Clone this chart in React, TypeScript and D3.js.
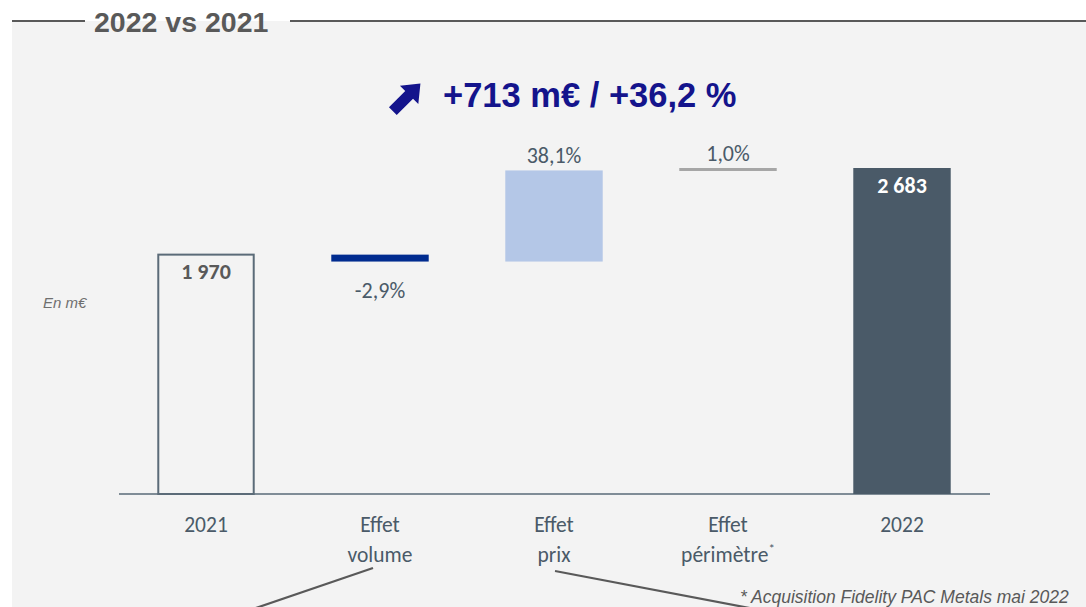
import React from "react";
import * as d3 from "d3";

const categories = ["2021", "Effet volume", "Effet prix", "Effet périmètre", "2022"];
const catLines = [["2021"], ["Effet", "volume"], ["Effet", "prix"], ["Effet", "périmètre"], ["2022"]];
const startValue = 1970;
const deltas = [-57, 750, 20];
const endValue = 2683;
const deltaLabels = ["-2,9%", "38,1%", "1,0%"];
const totalLabels = ["1 970", "2 683"];

const W = 1086;
const H = 607;

export default function App() {
  const x = d3.scaleBand<string>().domain(categories).range([119, 989]).paddingInner(0.44).paddingOuter(0.22);
  const y = d3.scaleLinear().domain([0, endValue]).range([494, 168]);
  const bw = x.bandwidth();

  const steps: { cat: string; from: number; to: number }[] = [];
  let run = startValue;
  deltas.forEach((d, i) => {
    steps.push({ cat: categories[i + 1], from: run, to: run + d });
    run += d;
  });
  const deltaColors = ["#002b8f", "#b4c7e7", "#a6a6a6"];

  const calibri = "Carlito, Lato, 'Open Sans', sans-serif";
  const labelColor = "#4a5a68";
  const arial = "'Liberation Sans', Arial, sans-serif";

  return (
    <svg width={W} height={H} style={{ position: "absolute", left: 0, top: 0, display: "block" }}>
      <rect x={0} y={0} width={W} height={H} fill="#ffffff" />
      <rect x={12} y={21} width={W - 12} height={H - 21} fill="#f3f3f3" />
      <line x1={12} x2={85} y1={21} y2={21} stroke="#595959" strokeWidth={2} />
      <line x1={290} x2={W} y1={21} y2={21} stroke="#595959" strokeWidth={2} />
      <text x={94} y={32} fontFamily={arial} fontWeight="bold" fontSize={28.5} fill="#595959">
        2022 vs 2021
      </text>

      {/* headline */}
      <g transform="translate(407,97) rotate(-45)" fill="#14148c">
        <path d="M -20 -5.5 L 3 -5.5 L 3 -13 L 19 0 L 3 13 L 3 5.5 L -20 5.5 Z" />
      </g>
      <text x={443} y={107} fontFamily={arial} fontWeight="bold" fontSize={34.5} fill="#14148c">
        +713 m€ / +36,2 %
      </text>

      <text x={43} y={308} fontFamily={arial} fontStyle="italic" fontSize={15} fill="#6f6f6f">
        En m€
      </text>

      {/* axis */}
      <line x1={119} x2={990} y1={y(0)} y2={y(0)} stroke="#7f8c96" strokeWidth={2} />

      {/* start bar */}
      <rect
        x={x(categories[0])! + 1}
        y={y(startValue)}
        width={bw - 2}
        height={y(0) - y(startValue)}
        fill="none"
        stroke="#5b6b78"
        strokeWidth={2}
      />
      <text x={x(categories[0])! + bw / 2} y={y(startValue) + 24.5} textAnchor="middle" fontFamily={calibri} fontWeight="bold" fontSize={22} fill="#595959">
        {totalLabels[0]}
      </text>

      {/* delta bars */}
      {steps.map((s, i) => {
        const top = y(Math.max(s.from, s.to));
        const bot = y(Math.min(s.from, s.to));
        const h = Math.max(bot - top, 3);
        const cx = x(s.cat)! + bw / 2;
        const labelY = s.to < s.from ? bot + 36 : top - 7;
        return (
          <g key={s.cat}>
            <rect x={x(s.cat)} y={top} width={bw} height={h} fill={deltaColors[i]} />
            <text x={cx} y={labelY} textAnchor="middle" fontFamily={calibri} fontSize={22} fill={labelColor}>
              {deltaLabels[i]}
            </text>
          </g>
        );
      })}

      {/* end bar */}
      <rect x={x(categories[4])} y={y(endValue)} width={bw} height={y(0) - y(endValue)} fill="#4a5a68" />
      <text x={x(categories[4])! + bw / 2} y={y(endValue) + 25} textAnchor="middle" fontFamily={calibri} fontWeight="bold" fontSize={22} fill="#ffffff">
        {totalLabels[1]}
      </text>

      {/* category labels */}
      {categories.map((c, i) => (
        <text key={c} x={x(c)! + bw / 2} y={532} textAnchor="middle" fontFamily={calibri} fontSize={21.5} fill={labelColor}>
          {catLines[i].map((ln, j) => (
            <tspan key={j} x={x(c)! + bw / 2} dy={j === 0 ? 0 : 30}>
              {ln}
              {i === 3 && j === 1 ? <tspan dy={-9} fontSize={13}>*</tspan> : null}
            </tspan>
          ))}
        </text>
      ))}

      {/* connector lines */}
      <line x1={373} y1={568} x2={250} y2={610} stroke="#595959" strokeWidth={2.2} />
      <line x1={555} y1={571} x2={760} y2={610} stroke="#595959" strokeWidth={2.2} />

      <text x={740} y={603} fontFamily={arial} fontStyle="italic" fontSize={17.5} fill="#595959">
        * Acquisition Fidelity PAC Metals mai 2022
      </text>
    </svg>
  );
}
